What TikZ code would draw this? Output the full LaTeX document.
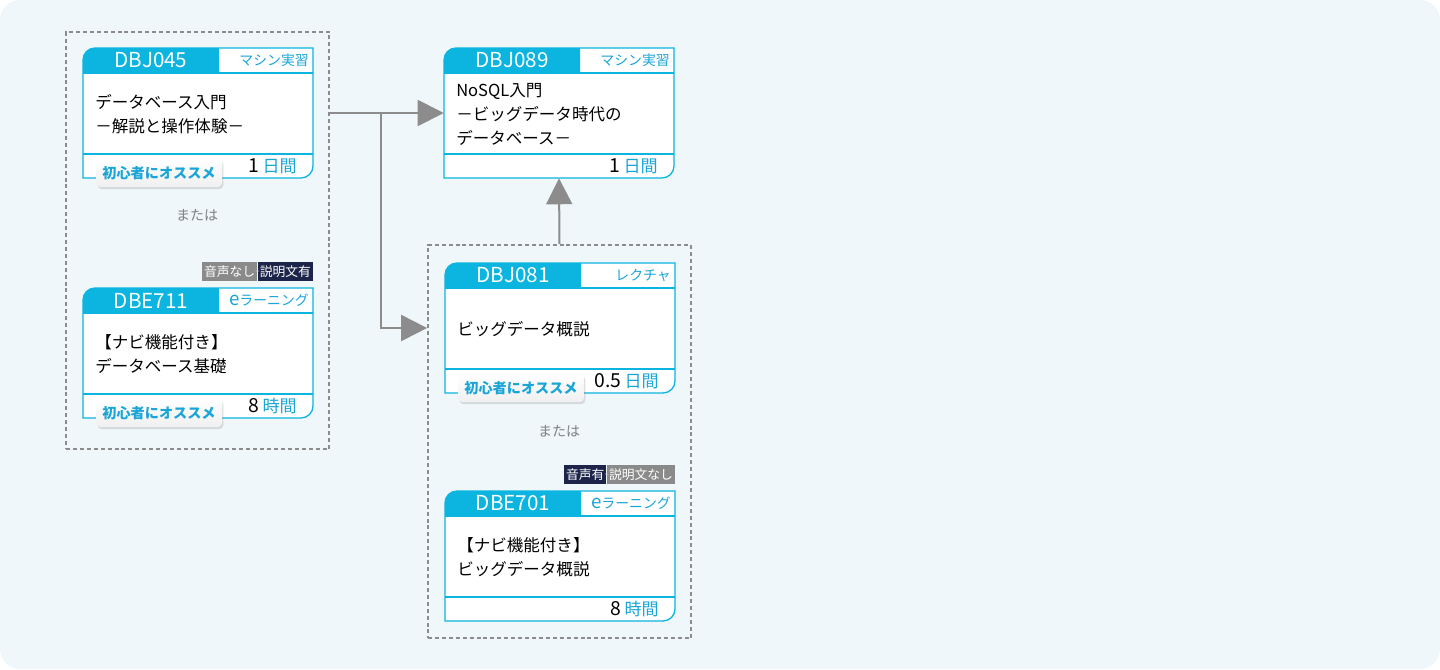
\documentclass[tikz,border=0pt]{standalone}
\usepackage{fontspec}
\setmainfont{Noto Sans CJK JP}
\usetikzlibrary{arrows.meta,positioning,shadows}

\definecolor{bgblue}{RGB}{239,247,251}
\definecolor{cardcyan}{RGB}{11,181,223}
\definecolor{textcyan}{RGB}{25,165,215}
\definecolor{flowgray}{RGB}{140,140,140}
\definecolor{tagnavy}{RGB}{28,36,73}
\definecolor{taggray}{RGB}{138,138,138}

\tikzset{
  cardline/.style={draw=cardcyan, line width=1pt},
  codetext/.style={text=white, inner sep=0pt, font=\fontsize{15.5}{15.5}\selectfont},
  typetext/.style={text=textcyan, inner sep=0pt, font=\fontsize{10.4}{10.4}\selectfont},
  titletext/.style={align=left, inner sep=0pt, font=\fontsize{12.4}{18}\selectfont},
  hourtext/.style={inner sep=0pt, font=\fontsize{14.5}{14.5}\selectfont},
  osusume/.style={top color=white, bottom color=gray!12, rounded corners=3pt,
    minimum width=94.5pt, minimum height=21pt, inner sep=0pt, text=textcyan,
    font=\fontsize{10.6}{10.6}\selectfont\bfseries,
    drop shadow={shadow xshift=1pt, shadow yshift=-1.5pt, opacity=0.25}},
  tagbox/.style={inner xsep=1.5pt, inner ysep=0pt, minimum height=14.25pt,
    text=white, font=\fontsize{9.6}{9.6}\selectfont},
  groupbox/.style={draw=flowgray, line width=1.3pt, dash pattern=on 3pt off 2.2pt},
  flow/.style={draw=flowgray, line width=1.5pt, -{Triangle[length=19.5pt,width=19.5pt]}},
  oratext/.style={text=gray, font=\fontsize{10.5}{10.5}\selectfont},
}

% コースカード: 名前, x, y(左上), コード, 形式, タイトル, 数, 単位
\newcommand{\coursecard}[8]{%
  \fill[white] (#2,#3+130) -- (#2,#3+12) arc[start angle=180,end angle=270,radius=12]
    -- (#2+230,#3) -- (#2+230,#3+118) arc[start angle=0,end angle=90,radius=12] -- cycle;
  \fill[cardcyan] (#2,#3+25) -- (#2,#3+12) arc[start angle=180,end angle=270,radius=12]
    -- (#2+136,#3) -- (#2+136,#3+25) -- cycle;
  \draw[cardline] (#2,#3+25) -- (#2+230,#3+25);
  \draw[cardline] (#2,#3+106) -- (#2+230,#3+106);
  \draw[cardline] (#2,#3+130) -- (#2,#3+12) arc[start angle=180,end angle=270,radius=12]
    -- (#2+230,#3) -- (#2+230,#3+118) arc[start angle=0,end angle=90,radius=12] -- cycle;
  \node[inner sep=0pt, minimum width=172.5pt, minimum height=97.5pt] (#1) at (#2+115,#3+65) {};
  \node[codetext] at (#2+68,#3+12.5) {#4};
  \node[typetext, anchor=east] at (#2+226,#3+12.5) {#5};
  \node[titletext, anchor=west] at (#2+12,#3+66) {#6};
  \node[hourtext, anchor=east] at (#2+214,#3+118) {#7\,{\fontsize{12.8}{12.8}\selectfont\color{textcyan}#8}};
}
\newcommand{\elearn}{{\fontsize{14}{14}\selectfont e}ラーニング}

\begin{document}
\begin{tikzpicture}[x=0.75pt, y=-0.75pt]
  % 背景
  \fill[white] (0,0) rectangle (1440,669);
  \fill[bgblue, rounded corners=15pt] (0,0) rectangle (1440,669);
  \useasboundingbox (0,0) rectangle (1440,669);

  % 点線の枠
  \node[groupbox, minimum width=197.25pt, minimum height=312.75pt] (grpA) at (197.5,240.5) {};
  \node[groupbox, minimum width=197.25pt, minimum height=294.75pt] (grpB) at (559.5,441.5) {};

  % コース
  \coursecard{c045}{83}{48}{DBJ045}{マシン実習}{データベース入門\\－解説と操作体験－}{1}{日間}
  \coursecard{c711}{83}{288}{DBE711}{\elearn}{【ナビ機能付き】\\データベース基礎}{8}{時間}
  \coursecard{c089}{444}{48}{DBJ089}{マシン実習}{NoSQL入門\\－ビッグデータ時代の\\データベース－}{1}{日間}
  \coursecard{c081}{445}{263}{DBJ081}{レクチャ}{ビッグデータ概説}{0.5}{日間}
  \coursecard{c701}{445}{491}{DBE701}{\elearn}{【ナビ機能付き】\\ビッグデータ概説}{8}{時間}

  % 初心者にオススメ
  \node[osusume] (b045) at (159,173) {初心者にオススメ};
  \node[osusume] (b711) at (159,413) {初心者にオススメ};
  \node[osusume] (b081) at (521,388) {初心者にオススメ};

  % 音声・説明文
  \node[tagbox, fill=tagnavy, anchor=south east] (t711b) at ([yshift=4.5pt]c711.north east) {説明文有};
  \node[tagbox, fill=taggray, left=0pt of t711b] (t711a) {音声なし};
  \node[inner sep=0pt, text=gray!30, font=\fontsize{6}{6}\selectfont] at (t711b.west) {+};
  \node[tagbox, fill=taggray, anchor=south east] (t701b) at ([yshift=4.5pt]c701.north east) {説明文なし};
  \node[tagbox, fill=tagnavy, left=0pt of t701b] (t701a) {音声有};
  \node[inner sep=0pt, text=gray!30, font=\fontsize{6}{6}\selectfont] at (t701b.west) {+};

  % または
  \node[oratext] (orA) at (197,215) {または};
  \node[oratext] (orB) at (559,431) {または};

  % 矢印
  \coordinate (jn) at (381,113.5);
  \draw[flow] (grpA.east |- c089.west) -- (c089.west);
  \draw[flow] (jn) |- (grpB.west |- c081.west);
  \draw[flow] (grpB.north) -- (c089.south);
\end{tikzpicture}
\end{document}
